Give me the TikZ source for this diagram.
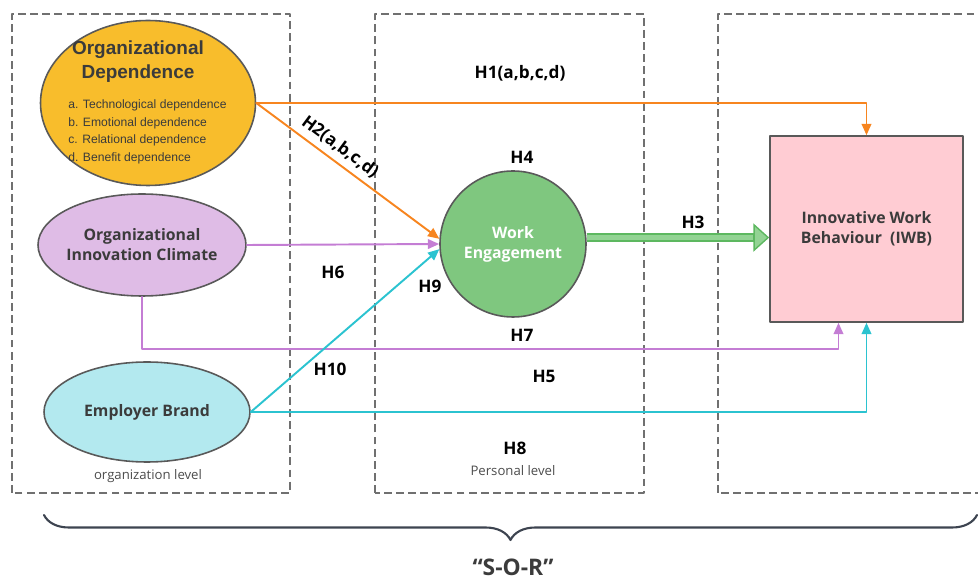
\documentclass[tikz,border=0pt]{standalone}
\usepackage{fontspec}
\setmainfont{Open Sans}
\newfontfamily\arialfont{Liberation Sans}
\usetikzlibrary{
  arrows.meta,              % 箭头样式
  calc,                     % 坐标计算
  decorations.pathreplacing,% 大括号装饰
  shapes.geometric,         % 椭圆节点
  positioning               % 节点相对定位
}
\definecolor{boxgray}{HTML}{707070}
\definecolor{textgray}{HTML}{3B3B3B}
\definecolor{odfill}{HTML}{F8BD2C}
\definecolor{oicfill}{HTML}{DFBCE6}
\definecolor{ebfill}{HTML}{B3E9EF}
\definecolor{wefill}{HTML}{7FC77F}
\definecolor{iwbfill}{HTML}{FFCCD3}
\definecolor{odline}{HTML}{F7851F}
\definecolor{oicline}{HTML}{C47DD4}
\definecolor{ebline}{HTML}{2BC3D0}
\definecolor{weouter}{HTML}{5DB860}
\definecolor{weinner}{HTML}{92D393}
\definecolor{bracegray}{HTML}{3D4450}

\begin{document}
\begin{tikzpicture}[>=Stealth, line join=round, line cap=round]
  % 统一设置：虚线分区框、变量节点、连线与假设标签
  \tikzset{
    level box/.style={dash pattern=on 4.5pt off 2.4pt, line cap=butt, draw=boxgray, line width=1.1pt},
    var node/.style={draw=black!65, line width=0.9pt, font=\fontsize{9}{11.3}\selectfont\bfseries, text=textgray, align=center},
    var text/.style={font=\fontsize{9}{11.3}\selectfont\bfseries, text=textgray, align=center},
    hyp label/.style={font=\fontsize{9.8}{12}\selectfont\bfseries, text=black},
    level label/.style={font=\fontsize{7.5}{9}\selectfont, text=black!70},
    dep link/.style={draw=odline, line width=1.1pt, -{Triangle[length=6.5pt, width=5.5pt]}},
    climate link/.style={draw=oicline, line width=1.1pt, -{Triangle[length=6.5pt, width=5.5pt]}},
    brand link/.style={draw=ebline, line width=1.1pt, -{Triangle[length=6.5pt, width=5.5pt]}}
  }
  \useasboundingbox (0,0) rectangle (19.56,11.6);

  % =======================
  % 三个层级的虚线框
  % =======================
  \draw[level box] (0.24,1.74) rectangle (5.8,11.32);   % 组织层面
  \draw[level box] (7.5,1.74) rectangle (12.88,11.32);  % 个人层面
  \draw[level box] (14.36,1.74) rectangle (19.8,11.32); % 结果（右边缘被裁掉）

  % =======================
  % S：组织层面的三个前因
  % =======================
  \node[var node, ellipse, fill=odfill, minimum width=4.3cm, minimum height=3.3cm] (od) at (2.96,9.54) {};
  \node[font=\arialfont\fontsize{10.8}{14}\selectfont\bfseries, text=textgray, align=center] (odtitle) at (2.76,10.37)
    {Organizational\\Dependence};
  \node[anchor=north west, inner sep=0pt, font=\arialfont\fontsize{6.9}{10.2}\selectfont, text=textgray, align=left] (odlist) at (1.36,9.62)
    {a. Technological dependence\\b. Emotional dependence\\c. Relational dependence\\d. Benefit dependence};

  % 文字放在 label 中，避免椭圆被文字撑大
  \node[var node, ellipse, fill=oicfill, minimum width=4.16cm, minimum height=2.04cm,
        label={[var text, name=oictext]center:Organizational\\Innovation Climate}] (oic) at (2.84,6.7) {};
  \node[var node, ellipse, fill=ebfill, minimum width=4.12cm, minimum height=2.0cm] (eb) at (2.94,3.36)
    {Employer Brand};
  \node[level label] (orglevel) at (2.96,2.08) {organization level};

  % =======================
  % O：工作投入；R：创新行为
  % =======================
  \node[var node, circle, fill=wefill, text=white, minimum size=2.92cm] (we) at (10.26,6.72)
    {Work\\Engagement};
  \node[level label] (perlevel) at (10.26,2.18) {Personal level};

  \node[var node, rectangle, fill=iwbfill, minimum width=3.86cm, minimum height=3.72cm] (iwb) at (17.33,7.02)
    {Innovative Work\\Behaviour\ \ (IWB)};

  % =======================
  % 假设路径
  % =======================
  \draw[dep link] (od.east) -| (iwb.north);
  \draw[dep link] (od.east) -- node[hyp label, sloped, above, pos=0.41] (lblH2) {H2(a,b,c,d)} (we.176);
  \draw[climate link] (oic.east) -- (we.west);
  \coordinate (iwbP) at ([xshift=-0.56cm]iwb.south);
  \draw[climate link] (oic.south) |- ($(iwbP)+(0,-0.52)$) -- (iwbP);
  \draw[brand link] (eb.east) -- (we.184);
  \draw[brand link] (eb.east) -| (iwb.south);

  % 中介到结果的粗箭头（双色）
  \coordinate (iwbW) at (iwb.west |- we.5);
  \draw[draw=weouter, line width=5pt, line cap=butt,
        -{Triangle[length=9pt, width=16pt, line width=0.8pt, fill=weinner]}] (we.5) -- (iwbW);
  \draw[draw=weinner, line width=2.4pt, line cap=butt, shorten >=9pt] (we.5) -- (iwbW);

  % 假设编号
  \node[hyp label] (lblH1) at (10.4,10.14) {H1(a,b,c,d)};
  \node[hyp label] (lblH4) at (10.44,8.46) {H4};
  \node[hyp label] (lblH3) at (13.86,7.16) {H3};
  \node[hyp label] (lblH6) at (6.66,6.16) {H6};
  \node[hyp label] (lblH9) at (8.6,5.88) {H9};
  \node[hyp label] (lblH7) at (10.44,4.9) {H7};
  \node[hyp label] (lblH10) at (6.6,4.22) {H10};
  \node[hyp label] (lblH5) at (10.88,4.08) {H5};
  \node[hyp label] (lblH8) at (10.3,2.64) {H8};

  % =======================
  % 底部大括号与 S-O-R
  % =======================
  \draw[draw=bracegray, line width=1.2pt, decorate, decoration={brace, mirror, amplitude=0.5cm}]
    (0.88,1.3) -- (19.54,1.3);
  \node[font=\fontsize{13}{15}\selectfont\bfseries, text=textgray] (sor) at (10.26,0.26) {“S-O-R”};

\end{tikzpicture}
\end{document}
